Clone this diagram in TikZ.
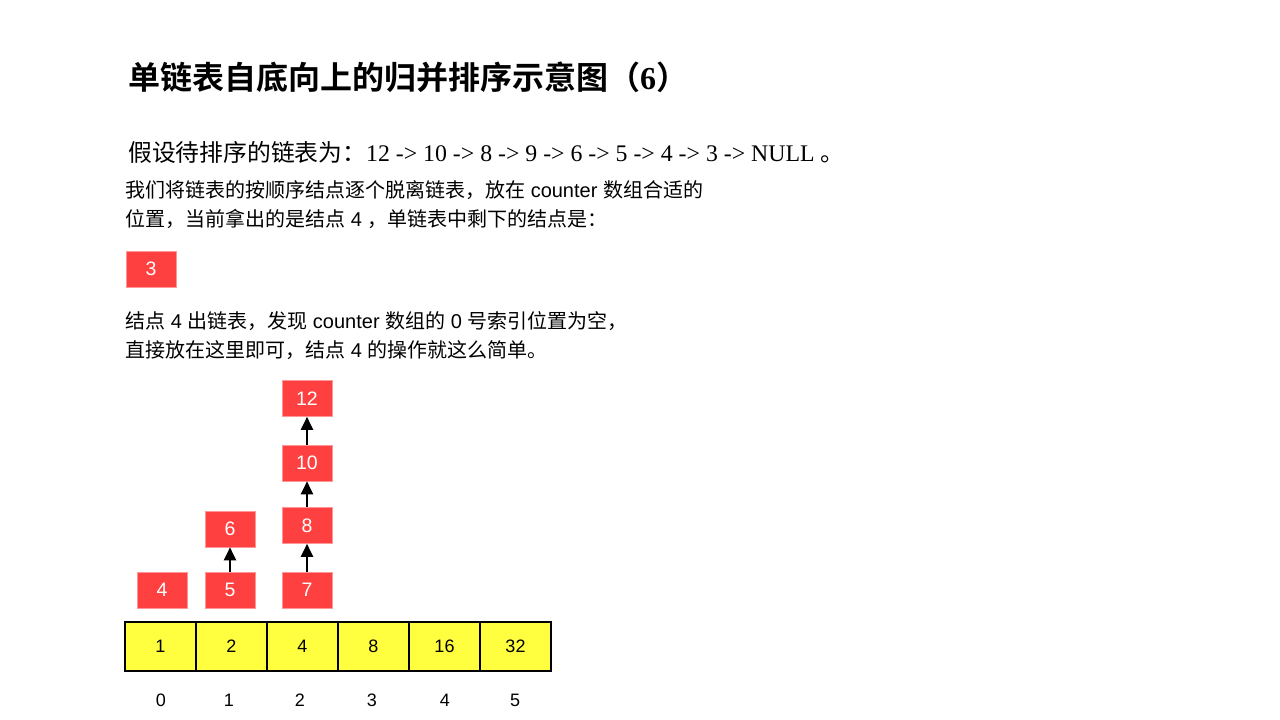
\documentclass[tikz,border=0pt]{standalone}
\usepackage{fontspec}
\setmainfont{Liberation Sans}
\newfontfamily\cjk{Noto Sans CJK SC}
\newfontfamily\cjkb{Noto Sans CJK SC Bold}
\newfontfamily\serif{Liberation Serif}
\usetikzlibrary{arrows.meta}
\definecolor{boxred}{RGB}{255,64,64}
\definecolor{celly}{RGB}{255,255,64}
\begin{document}
\begin{tikzpicture}[x=1pt,y=-1pt,
 txt/.style={anchor=west,inner sep=0pt,font=\fontsize{20}{24}\selectfont},
 rbox/.style={fill=boxred,draw=boxred!55!white,line width=0.6pt,minimum width=50pt,minimum height=36pt,inner sep=0pt,text=white,font=\fontsize{19.5}{22}\selectfont},
 cell/.style={fill=celly,draw=black,line width=1.8pt,minimum width=71pt,minimum height=49pt,inner sep=0pt,font=\fontsize{18}{20}\selectfont},
 idx/.style={inner sep=0pt,font=\fontsize{18}{20}\selectfont},
 arr/.style={-{Triangle[length=13pt,width=12pt]},line width=2.4pt}]
\useasboundingbox (0,0) rectangle (1280,720);
\fill[white] (0,0) rectangle (1280,720);

\node[anchor=west,inner sep=0pt,font=\fontsize{32}{36}\selectfont] (title) at (128,77) {\cjkb 单链表自底向上的归并排序示意图（{\serif\bfseries 6}）};
\node[anchor=west,inner sep=0pt,font=\fontsize{23.8}{27}\selectfont] (l2) at (128,152) {{\cjk 假设待排序的链表为：}{\serif 12 -> 10 -> 8 -> 9 -> 6 -> 5 -> 4 -> 3 -> NULL }{\cjk 。}};
\node[txt] (l3) at (125,190) {{\cjk 我们将链表的按顺序结点逐个脱离链表，放在} counter {\cjk 数组合适的}};
\node[txt] (l4) at (125,219) {{\cjk 位置，当前拿出的是结点} 4 {\cjk ，单链表中剩下的结点是：}};
\node[rbox] (b3) at (151,269) {3};
\node[txt] (l5) at (125,321) {{\cjk 结点} 4 {\cjk 出链表，发现} counter {\cjk 数组的} 0 {\cjk 号索引位置为空，}};
\node[txt] (l6) at (125,350) {{\cjk 直接放在这里即可，结点} 4 {\cjk 的操作就这么简单。}};

\node[rbox] (b4) at (162,590) {4};
\node[rbox] (b5) at (230,590) {5};
\node[rbox] (b6) at (230,529) {6};
\node[rbox] (b7) at (307,590) {7};
\node[rbox] (b8) at (307,525.5) {8};
\node[rbox] (b10) at (307,463) {10};
\node[rbox] (b12) at (307,398.5) {12};
\draw[arr] (b5.north) -- (b6.south);
\draw[arr] (b7.north) -- (b8.south);
\draw[arr] (b8.north) -- (b10.south);
\draw[arr] (b10.north) -- (b12.south);

\node[cell] (c0) at (160.5,646.5) {1};
\node[cell] (c1) at (231.5,646.5) {2};
\node[cell] (c2) at (302.5,646.5) {4};
\node[cell] (c3) at (373.5,646.5) {8};
\node[cell] (c4) at (444.5,646.5) {16};
\node[cell] (c5) at (515.5,646.5) {32};

\node[idx] (i0) at (161,700) {0};
\node[idx] (i1) at (229,700) {1};
\node[idx] (i2) at (300,700) {2};
\node[idx] (i3) at (372,700) {3};
\node[idx] (i4) at (445,700) {4};
\node[idx] (i5) at (515,700) {5};
\end{tikzpicture}
\end{document}
